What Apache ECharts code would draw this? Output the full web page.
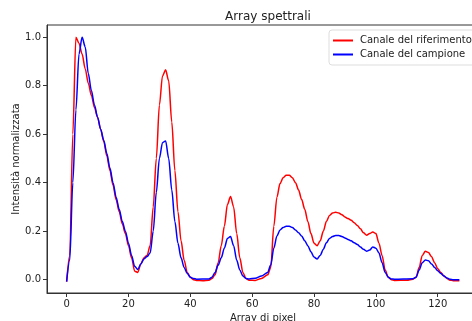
<!DOCTYPE html>
<html>
<head>
<meta charset="utf-8">
<script src="https://cdn.jsdelivr.net/npm/echarts@6/dist/echarts.min.js"></script>
<style>html,body{margin:0;padding:0;background:#fff}#c{width:472px;height:321px}</style>
</head>
<body>
<div id="c"></div>
<script>
const chartTitle = 'Array spettrali';
const xName = 'Array di pixel';
const yName = 'Intensità normalizzata';
const seriesNames = ['Canale del riferimento', 'Canale del campione'];
const xTicks = [0, 20, 40, 60, 80, 100, 120];
const yTicks = [0.0, 0.2, 0.4, 0.6, 0.8, 1.0];

const refX = [0,1,2,3,4,5,6,7,8,9,10,11,12,13,14,15,16,17,18,19,20,21,22,23,24,25,26,27,28,29,30,31,32,33,34,35,36,37,38,39,40,41,42,44,46,47,48,49,50,51,52,53,54,55,56,57,58,59,61,63,65,66,67,68,69,70,71,72,73,74,75,76,77,78,79,80,81,82,83,84,85,86,87,88,89,90,91,92,93,94,95,96,97,98,99,100,101,102,103,104,105,106,110,112,113,114,115,116,117,118,119,120,121,122,123,124,125,127];
const refY = [-0.008,0.1,0.6,1.0,0.975,0.93,0.87,0.81,0.76,0.71,0.67,0.62,0.57,0.51,0.45,0.39,0.33,0.28,0.23,0.19,0.14,0.09,0.035,0.03,0.065,0.09,0.1,0.14,0.3,0.5,0.72,0.84,0.865,0.82,0.65,0.45,0.28,0.16,0.08,0.03,0.01,0.0,-0.003,-0.004,-0.002,0.005,0.02,0.07,0.14,0.22,0.31,0.343,0.3,0.19,0.09,0.03,0.005,-0.002,-0.003,0.005,0.02,0.05,0.22,0.34,0.396,0.42,0.43,0.43,0.42,0.4,0.37,0.33,0.29,0.24,0.19,0.15,0.14,0.16,0.2,0.24,0.265,0.275,0.278,0.275,0.268,0.258,0.252,0.245,0.235,0.223,0.21,0.193,0.183,0.19,0.197,0.19,0.15,0.1,0.04,0.01,0.0,-0.003,-0.002,0.002,0.01,0.05,0.1,0.117,0.112,0.095,0.07,0.045,0.03,0.015,0.005,-0.002,-0.004,-0.005];

const smpX = [0,1,2,3,4,5,6,7,8,9,10,11,12,13,14,15,16,17,18,19,20,21,22,23,24,25,26,27,28,29,30,31,32,33,34,35,36,37,38,39,40,41,42,46,47,48,49,50,51,52,53,54,55,56,57,58,59,61,63,65,66,67,68,69,70,71,72,73,74,75,76,77,78,79,80,81,82,83,84,85,86,87,88,89,90,91,92,93,94,95,96,97,98,99,100,101,102,103,104,105,106,112,113,114,115,116,117,118,119,120,121,122,123,124,125,127];
const smpY = [-0.008,0.08,0.4,0.7,0.93,1.0,0.96,0.85,0.78,0.72,0.67,0.62,0.575,0.52,0.46,0.4,0.34,0.29,0.24,0.2,0.15,0.1,0.055,0.042,0.065,0.085,0.095,0.11,0.2,0.36,0.5,0.565,0.572,0.5,0.37,0.24,0.15,0.09,0.05,0.025,0.01,0.005,0.002,0.003,0.01,0.03,0.06,0.09,0.13,0.17,0.178,0.14,0.08,0.04,0.015,0.005,0.003,0.006,0.015,0.03,0.06,0.13,0.18,0.205,0.215,0.22,0.22,0.215,0.205,0.193,0.18,0.16,0.14,0.115,0.093,0.085,0.1,0.125,0.152,0.17,0.178,0.182,0.182,0.178,0.172,0.166,0.16,0.152,0.145,0.135,0.125,0.117,0.122,0.135,0.13,0.11,0.07,0.03,0.01,0.003,0.002,0.004,0.01,0.04,0.07,0.081,0.078,0.065,0.05,0.037,0.025,0.015,0.007,0.002,0.0,0.0];

const zip = (xs, ys) => xs.map((x, i) => [x, ys[i]]);
const font = 'DejaVu Sans';
const chart = echarts.init(document.getElementById('c'), null, {renderer: 'canvas'});
chart.setOption({
  animation: false,
  backgroundColor: '#fff',
  textStyle: {fontFamily: font},
  title: {
    text: chartTitle, left: 263, top: 6, textAlign: 'center',
    textStyle: {fontFamily: font, fontSize: 12, fontWeight: 'normal', color: '#222'}
  },
  legend: {
    orient: 'vertical', left: 329, top: 30,
    padding: [5, 12, 5, 4], itemGap: 3, itemWidth: 20, itemHeight: 2,
    icon: 'rect',
    backgroundColor: '#fff', borderColor: '#ddd', borderWidth: 1, borderRadius: 3,
    textStyle: {fontFamily: font, fontSize: 10, color: '#222', lineHeight: 11, padding: [0, 0, 0, 2]},
    data: seriesNames
  },
  grid: {left: 47, top: 25, width: 432, height: 268, outerBoundsMode: 'none', containLabel: false, show: true, borderColor: '#333', borderWidth: 1, backgroundColor: 'transparent'},
  xAxis: {
    type: 'value', min: -6.35, max: 133.35,
    name: xName, nameLocation: 'middle', nameGap: 20, nameMoveOverlap: false,
    nameTextStyle: {fontFamily: font, fontSize: 10, color: '#222'},
    axisLine: {show: true, onZero: false, lineStyle: {color: '#333', width: 1}},
    axisTick: {show: true, length: 4, lineStyle: {color: '#333'}, customValues: xTicks},
    axisLabel: {fontFamily: font, fontSize: 10, color: '#222', margin: 6, customValues: xTicks, formatter: v => String(v)},
    splitLine: {show: false}
  },
  yAxis: {
    type: 'value', min: -0.055, max: 1.05,
    name: yName, nameLocation: 'middle', nameGap: 26, nameMoveOverlap: false,
    nameTextStyle: {fontFamily: font, fontSize: 10, color: '#222'},
    axisLine: {show: true, onZero: false, lineStyle: {color: '#333', width: 1}},
    axisTick: {show: true, length: 4, lineStyle: {color: '#333'}, customValues: yTicks},
    axisLabel: {fontFamily: font, fontSize: 10, color: '#222', margin: 6, customValues: yTicks, formatter: v => v.toFixed(1)},
    splitLine: {show: false}
  },
  series: [
    {name: seriesNames[0], type: 'line', data: zip(refX, refY), symbol: 'none', smooth: 0.3, smoothMonotone: 'x', lineStyle: {color: '#ff0000', width: 1.5}, itemStyle: {color: '#ff0000'}},
    {name: seriesNames[1], type: 'line', data: zip(smpX, smpY), symbol: 'none', smooth: 0.3, smoothMonotone: 'x', lineStyle: {color: '#0000ff', width: 1.5}, itemStyle: {color: '#0000ff'}}
  ]
});
</script>
</body>
</html>
